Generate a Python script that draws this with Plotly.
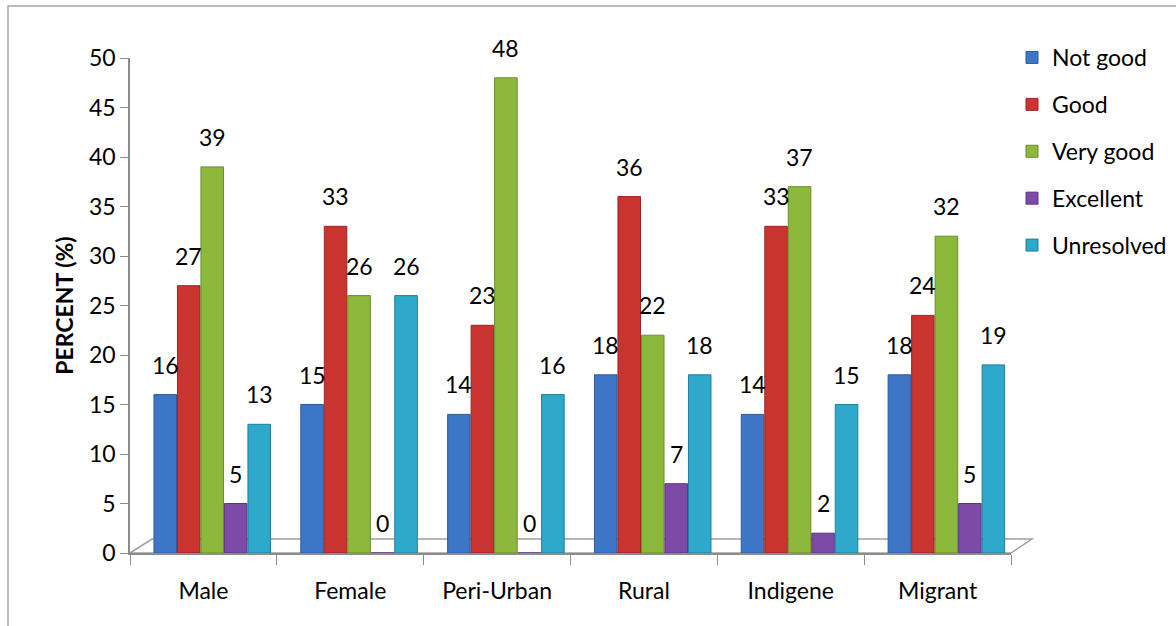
import plotly.graph_objects as go

categories = ["Male", "Female", "Peri-Urban", "Rural", "Indigene", "Migrant"]
series_names = ["Not good", "Good", "Very good", "Excellent", "Unresolved"]
not_good = [16, 15, 14, 18, 14, 18]
good = [27, 33, 23, 36, 33, 24]
very_good = [39, 26, 48, 22, 37, 32]
excellent = [5, 0, 0, 7, 2, 5]
unresolved = [13, 26, 16, 18, 15, 19]
y_ticks = [0, 5, 10, 15, 20, 25, 30, 35, 40, 45, 50]

series_values = [not_good, good, very_good, excellent, unresolved]
colors = ["#3D76C6", "#C93330", "#8CB83B", "#7D4AA8", "#2EA8CB"]
edges = ["#2C5A9C", "#9C2422", "#6A8E2A", "#5C3580", "#1F7F9C"]

W, H = 1176, 626
L, R, T, B = 130, 1011, 58, 553  # plot area in px


def px_x(p):
    return (p - L) / (R - L)


def px_y(p):
    return (B - p) / (B - T)


FONT = "Lato, 'Open Sans', sans-serif"
FS = 23
depth_shift = 0.06   # 3D depth offset of bars relative to category centers
bargap = 0.2
bargroupgap = 0.04
label_lift = 30      # px between bar top and its value label

n_cat = len(categories)
n_ser = len(series_names)
slot = (1 - bargap) / n_ser                 # in category units
slot_px = (R - L) / n_cat * slot

fig = go.Figure()
annotations = []
for k, (name, vals, c, e) in enumerate(zip(series_names, series_values, colors, edges)):
    fig.add_trace(go.Bar(
        name=name, x=categories, y=vals,
        width=slot * (1 - bargroupgap),
        offset=-(1 - bargap) / 2 + k * slot + slot * bargroupgap / 2 + depth_shift,
        marker=dict(color=c, line=dict(color=e, width=1)),
        legendgroup=name, hoverinfo="x+y+name",
    ))
    for cat, v in zip(categories, vals):
        annotations.append(dict(
            x=cat, y=v, xref="x", yref="y", text=str(v), showarrow=False,
            xshift=(k - (n_ser - 1) / 2) * slot_px + depth_shift * (R - L) / n_cat,
            yshift=label_lift,
            yanchor="middle", font=dict(family=FONT, size=FS, color="#000000"),
        ))

grey = "#8C8C8C"
shapes = [
    # chart border
    dict(type="rect", xref="paper", yref="paper",
         x0=px_x(8), y0=px_y(6), x1=px_x(1190), y1=px_y(640),
         line=dict(color="#A6A6A6", width=1.5), fillcolor="rgba(0,0,0,0)", layer="below"),
    # 3D floor
    dict(type="path", xref="paper", yref="paper",
         path=(f"M {px_x(L)} {px_y(B)} L {px_x(L + 22)} {px_y(B - 14)} "
               f"L {px_x(R + 21)} {px_y(B - 14)} L {px_x(R)} {px_y(B)} Z"),
         line=dict(color="#A0A0A0", width=1.5), fillcolor="rgba(255,255,255,0)", layer="below"),
]

fig.update_layout(
    width=W, height=H,
    margin=dict(l=L, r=W - R, t=T, b=H - B, autoexpand=False),
    paper_bgcolor="white", plot_bgcolor="white",
    barmode="group", bargap=bargap, bargroupgap=bargroupgap,
    font=dict(family=FONT, size=FS, color="#000000"),
    showlegend=True,
    legend=dict(x=px_x(1012), y=px_y(36), xanchor="left", yanchor="top",
                font=dict(family=FONT, size=FS), tracegroupgap=14,
                bgcolor="rgba(0,0,0,0)", itemwidth=30),
    xaxis=dict(type="category", range=[-0.5, n_cat - 0.5],
               categoryarray=categories, categoryorder="array",
               tickson="boundaries", ticks="outside", ticklen=10, tickcolor=grey,
               ticklabelstandoff=17,
               showline=True, linecolor=grey, linewidth=1.5,
               showgrid=False, zeroline=False,
               tickfont=dict(family=FONT, size=FS)),
    yaxis=dict(range=[0, 50], tickvals=y_ticks, ticks="outside", ticklen=8,
               tickcolor=grey, showline=True, linecolor=grey, linewidth=1.5,
               showgrid=False, zeroline=False,
               tickfont=dict(family=FONT, size=FS),
               title=dict(text="<b>PERCENT (%)</b>", standoff=9,
                          font=dict(family=FONT, size=FS))),
    shapes=shapes,
    annotations=annotations,
)

fig.write_html("out.html", config={"displayModeBar": False},
               post_script="document.body.style.margin='0';")
